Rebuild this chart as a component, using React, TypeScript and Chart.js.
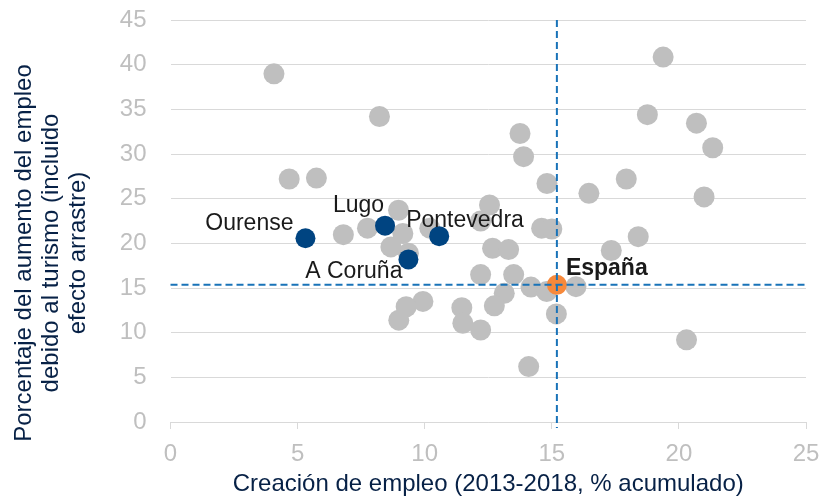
import React, { useEffect, useRef } from 'react';
import { Chart, registerables } from 'chart.js';

Chart.register(...registerables);

// Other Spanish provinces (grey)
const otherX = [4.07, 8.22, 4.67, 5.74, 8.97, 12.55, 19.38, 18.76, 20.69, 21.33, 13.75, 13.89, 14.81, 16.46, 17.93, 20.99, 6.8, 7.75, 9.14, 8.67, 9.36, 10.2, 12.2, 14.6, 15.0, 12.67, 13.3, 17.34, 18.4, 12.2, 13.5, 14.18, 14.8, 13.13, 12.74, 9.93, 9.27, 8.98, 11.46, 11.5, 12.2, 15.95, 15.18, 14.09, 20.3];
const otherY = [38.97, 34.2, 27.2, 27.3, 23.7, 24.3, 40.85, 34.4, 33.45, 30.7, 32.3, 29.7, 26.7, 25.6, 27.2, 25.2, 20.97, 21.7, 21.1, 19.6, 18.9, 21.7, 22.5, 21.7, 21.6, 19.45, 19.3, 19.2, 20.75, 16.5, 16.5, 15.1, 14.6, 14.4, 13.0, 13.5, 12.9, 11.4, 12.8, 11.05, 10.3, 15.15, 12.1, 6.2, 9.2];

// Galician provinces (blue)
const galiciaNames = ['Ourense', 'Lugo', 'Pontevedra', 'A Coruña'];
const galiciaX = [5.31, 8.44, 10.57, 9.36];
const galiciaY = [20.57, 21.98, 20.8, 18.2];

// Spain (orange, and reference lines)
const spainName = 'España';
const spainX = [15.2];
const spainY = [15.35];

const xMin = 0, xMax = 25, xStep = 5;
const yMin = 0, yMax = 45, yStep = 5;

const xTitle = 'Creación de empleo (2013-2018, % acumulado)';
const yTitle = ['Porcentaje del aumento del empleo', 'debido al turismo (incluido', 'efecto arrastre)'];

const FONT = "'Liberation Sans', Arial, sans-serif";

// label placement: [dx, dy, align]
const labelOffsets: [number, number, CanvasTextAlign][] = [
  [-12, -8, 'right'],
  [-1, -14, 'right'],
  [-33, -9, 'left'],
  [-6, 19, 'right'],
];

export default function App() {
  const ref = useRef<HTMLCanvasElement | null>(null);

  useEffect(() => {
    document.body.style.margin = '0';
    const canvas = ref.current;
    if (!canvas) return;

    const annotations = {
      id: 'annotations',
      afterDatasetsDraw(chart: any) {
        const { ctx, chartArea, scales } = chart;
        const x = scales.x, y = scales.y;
        const px = x.getPixelForValue(spainX[0]);
        const py = y.getPixelForValue(spainY[0]);
        ctx.save();
        ctx.strokeStyle = '#1973B8';
        ctx.lineWidth = 2;
        ctx.setLineDash([7, 4]);
        ctx.beginPath();
        ctx.moveTo(px, chartArea.top);
        ctx.lineTo(px, chartArea.bottom + 6);
        ctx.stroke();
        ctx.beginPath();
        ctx.moveTo(chartArea.left, py);
        ctx.lineTo(chartArea.right + 2, py);
        ctx.stroke();
        ctx.restore();
      },
      afterDraw(chart: any) {
        const { ctx, scales, chartArea } = chart;
        const x = scales.x, y = scales.y;
        ctx.save();
        ctx.fillStyle = '#1a1a1a';
        ctx.textBaseline = 'alphabetic';
        ctx.font = `23px ${FONT}`;
        galiciaNames.forEach((n, i) => {
          const [dx, dy, al] = labelOffsets[i];
          ctx.textAlign = al;
          ctx.fillText(n, x.getPixelForValue(galiciaX[i]) + dx, y.getPixelForValue(galiciaY[i]) + dy);
        });
        ctx.font = `bold 23px ${FONT}`;
        ctx.textAlign = 'left';
        ctx.fillText(spainName, x.getPixelForValue(spainX[0]) + 9, y.getPixelForValue(spainY[0]) - 10);

        // axis titles
        ctx.fillStyle = '#072146';
        ctx.font = `24px ${FONT}`;
        ctx.textAlign = 'center';
        ctx.textBaseline = 'middle';
        ctx.fillText(xTitle, (chartArea.left + chartArea.right) / 2, 484);
        ctx.translate(51, 253);
        ctx.rotate(-Math.PI / 2);
        yTitle.forEach((t, i) => {
          ctx.fillText(t, 0, (i - 1) * 27);
        });
        ctx.restore();
      },
    };

    const zeroPad = (s: any) => {
      s.paddingTop = 0;
      s.paddingBottom = 0;
      s.paddingLeft = 0;
      s.paddingRight = 0;
    };

    const chart = new Chart(canvas, {
      type: 'scatter',
      data: {
        datasets: [
          {
            label: spainName,
            data: spainX.map((v, i) => ({ x: v, y: spainY[i] })),
            backgroundColor: '#F7893B',
            borderWidth: 0,
            pointRadius: 10,
            order: 0,
          },
          {
            label: 'Galicia',
            data: galiciaX.map((v, i) => ({ x: v, y: galiciaY[i] })),
            backgroundColor: '#004481',
            borderWidth: 0,
            pointRadius: 10,
            order: 1,
          },
          {
            label: 'Resto',
            data: otherX.map((v, i) => ({ x: v, y: otherY[i] })),
            backgroundColor: '#BFBFBF',
            borderWidth: 0,
            pointRadius: 10.5,
            order: 2,
          },
        ],
      },
      options: {
        responsive: false,
        animation: false,
        layout: { padding: { left: 0, right: 17, top: 20, bottom: 0 } },
        plugins: { legend: { display: false }, tooltip: { enabled: false } },
        scales: {
          x: {
            type: 'linear',
            min: xMin,
            max: xMax,
            ticks: { stepSize: xStep, color: '#BFBFBF', font: { size: 24, family: FONT }, padding: 11, maxRotation: 0 },
            grid: { drawOnChartArea: false, drawTicks: true, tickLength: 7, color: '#D9D9D9' },
            border: { display: true, color: '#D9D9D9' },
            afterFit: (s: any) => { s.height = 74; zeroPad(s); },
          },
          y: {
            type: 'linear',
            min: yMin,
            max: yMax,
            ticks: { stepSize: yStep, color: '#BFBFBF', font: { size: 24, family: FONT }, padding: 24 },
            grid: { drawTicks: false, color: '#D9D9D9' },
            border: { display: false },
            afterFit: (s: any) => { s.width = 170.5; zeroPad(s); },
          },
        },
      },
      plugins: [annotations],
    });
    return () => chart.destroy();
  }, []);

  return (
    <div style={{ width: 823, height: 496 }}>
      <canvas ref={ref} width={823} height={496} />
    </div>
  );
}
